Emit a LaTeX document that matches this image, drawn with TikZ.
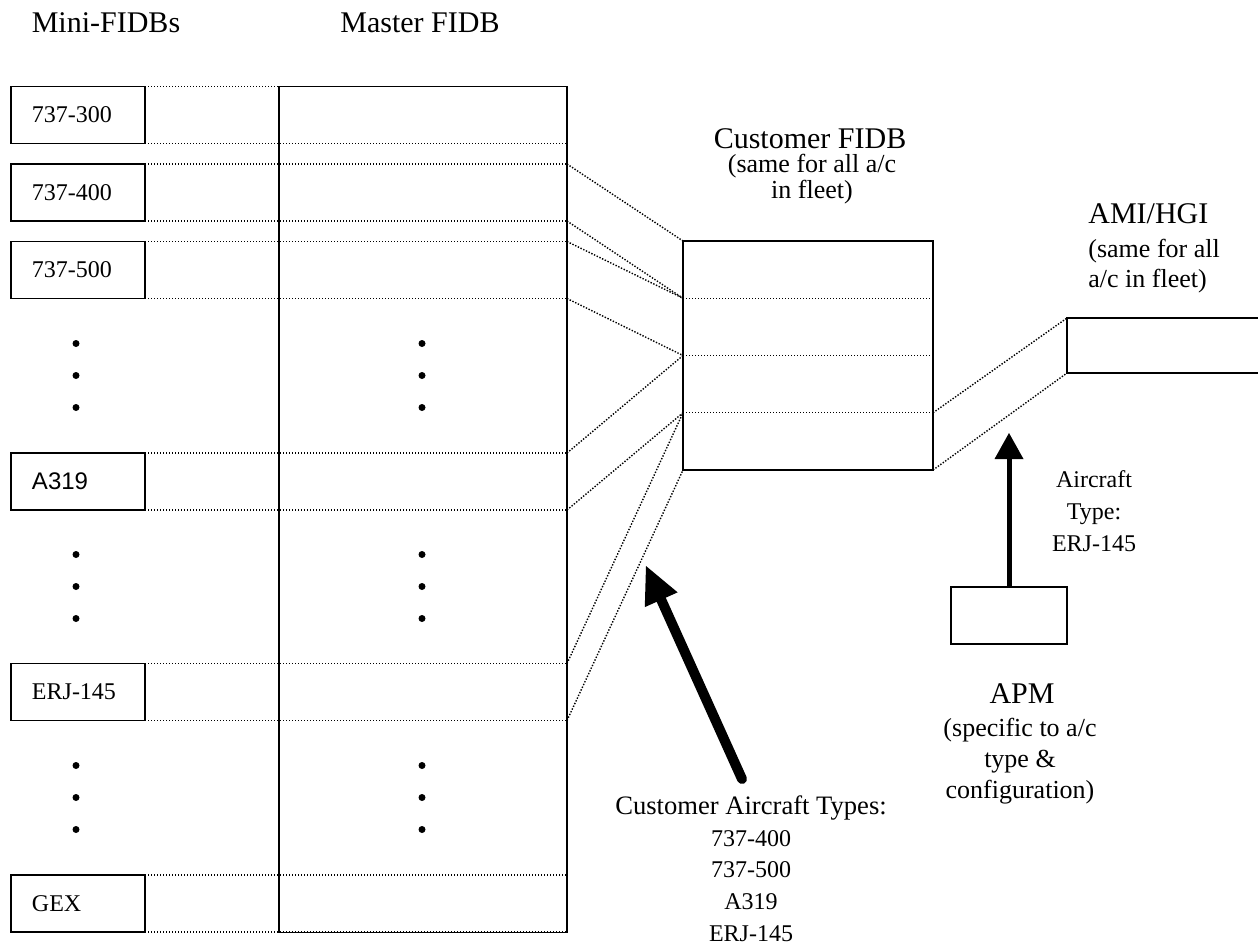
\documentclass[tikz,border=0pt]{standalone}
\usepackage{fontspec}
\setmainfont{Liberation Serif}
\newfontfamily\arialfont{Liberation Sans}
\usepackage{tikz}
\usetikzlibrary{arrows.meta}

\begin{document}
\begin{tikzpicture}
  [x=0.5pt, y=-0.5pt,
    minibox/.style={rectangle, draw=black, line width=0.75pt, minimum height=28.5pt, text width=46pt, inner xsep=10.5pt, inner ysep=0pt, outer sep=0pt, align=left, font=\fontsize{12}{14}\selectfont},
    masterbox/.style={rectangle, draw=black, line width=0.75pt, minimum width=144pt, minimum height=423pt, inner sep=0pt, outer sep=0pt},
    custrow/.style={rectangle, minimum width=125pt, minimum height=28.625pt, inner sep=0pt, outer sep=0pt},
    amibox/.style={rectangle, minimum width=96.5pt, minimum height=27.5pt, inner sep=0pt, outer sep=0pt},
    apmbox/.style={rectangle, draw=black, line width=0.75pt, minimum width=58pt, minimum height=28.5pt, inner sep=0pt, outer sep=0pt},
    dotline/.style={line width=0.7pt, dash pattern=on 0.7pt off 0.8pt},
    heading/.style={font=\fontsize{15}{18}\selectfont, inner sep=0pt, anchor=base},
    subnote/.style={font=\fontsize{13}{15.5}\selectfont, inner sep=0pt, align=center, anchor=base},
    typenote/.style={font=\fontsize{12}{15.8}\selectfont, inner sep=0pt, align=center, anchor=base},
    bigarrow/.style={line width=5pt, line cap=round, -{Triangle[length=18.5pt, width=18pt, line width=0pt]}},
    apmarrow/.style={line width=2.5pt, -{Triangle[length=13pt, width=14.5pt, line width=0pt]}}
  ]
  \useasboundingbox (0,0) rectangle (1258,944);

  % headings (multi-line notes sit on their last baseline)
  \node[heading] (minititle)   at (106,32)  {Mini-FIDBs};
  \node[heading] (mastertitle) at (420,32)  {Master FIDB};
  \node[heading] (custtitle)   at (810,148) {Customer FIDB};
  \node[subnote, font=\fontsize{13}{13}\selectfont] (custsub) at (812,198) {(same for all a/c\\in fleet)};
  \node[heading, anchor=base west] (amititle) at (1088,223) {AMI/HGI};
  \node[subnote, align=left, anchor=base west, font=\fontsize{13}{15}\selectfont] (amisub) at (1088,287) {(same for all\\a/c in fleet)};
  \node[heading] (apmtitle) at (1022,703) {APM};
  \node[subnote] (apmsub) at (1020,798) {(specific to a/c\\type \&\\configuration)};

  % mini FIDBs
  \path (78,115) node[minibox] (m1) {737-300}
      ++(0,77.5)  node[minibox] (m2) {737-400}
      ++(0,77.5)  node[minibox] (m3) {737-500}
      ++(0,211.5) node[minibox] (m4) {\arialfont A319}
      ++(0,210.5) node[minibox] (m5) {ERJ-145}
      ++(0,211.5) node[minibox] (m6) {GEX};

  \node[masterbox] (master) at (423,509.5) {};

  \foreach \g in {375.5, 586.5, 797.5} {
    \foreach \d in {-32, 0, 32} {
      \fill (76,\g+\d) circle (1.75pt);
      \fill (422,\g+\d) circle (1.75pt);
    }
  }

  \foreach \b in {m1,m2,m3,m4,m5,m6} {
    \draw[dotline] (\b.north east) -- (master.east |- \b.north);
    \draw[dotline] (\b.south east) -- (master.east |- \b.south);
  }

  % customer FIDB
  \path (808,269.625) node[custrow] (c1) {}
      ++(0,57.25) node[custrow] (c2) {}
      ++(0,57.25) node[custrow] (c3) {}
      ++(0,57.25) node[custrow] (c4) {};
  \draw[line width=0.75pt] (c1.north west) rectangle (c4.south east);
  \foreach \r in {c1,c2,c3}
    \draw[dotline] (\r.south west) -- (\r.south east);

  \draw[dotline] (master.east |- m2.north) -- (c1.north west);
  \draw[dotline] (master.east |- m2.south) -- (c1.south west);
  \draw[dotline] (master.east |- m3.north) -- (c1.south west);
  \draw[dotline] (master.east |- m3.south) -- (c2.south west);
  \draw[dotline] (master.east |- m4.north) -- (c2.south west);
  \draw[dotline] (master.east |- m4.south) -- (c3.south west);
  \draw[dotline] (master.east |- m5.north) -- (c3.south west);
  \draw[dotline] (master.east |- m5.south) -- (c4.south west);

  % AMI/HGI
  \node[amibox] (ami) at (1163.5,345.5) {};
  \draw[line width=0.75pt] (ami.north east) -- (ami.north west) -- (ami.south west) -- (ami.south east);
  \draw[dotline] (c3.south east) -- (ami.north west);
  \draw[dotline] (c4.south east) -- (ami.south west);

  % APM
  \node[apmbox] (apm) at (1009,615.5) {};
  \coordinate (apmtip) at (1009,433);
  \draw[apmarrow] (apm.north) -- (apmtip);
  \node[typenote] (actype) at (1094,551) {Aircraft\\Type:\\ERJ-145};

  % customer aircraft types
  \node[typenote] (custtypes) at (751,941) {{\fontsize{13.3}{15.8}\selectfont Customer Aircraft Types:}\\737-400\\737-500\\A319\\ERJ-145};
  \coordinate (cattail) at (742,779);
  \coordinate (cattip) at (646,566);
  \draw[bigarrow] (cattail) -- (cattip);

\end{tikzpicture}
\end{document}
